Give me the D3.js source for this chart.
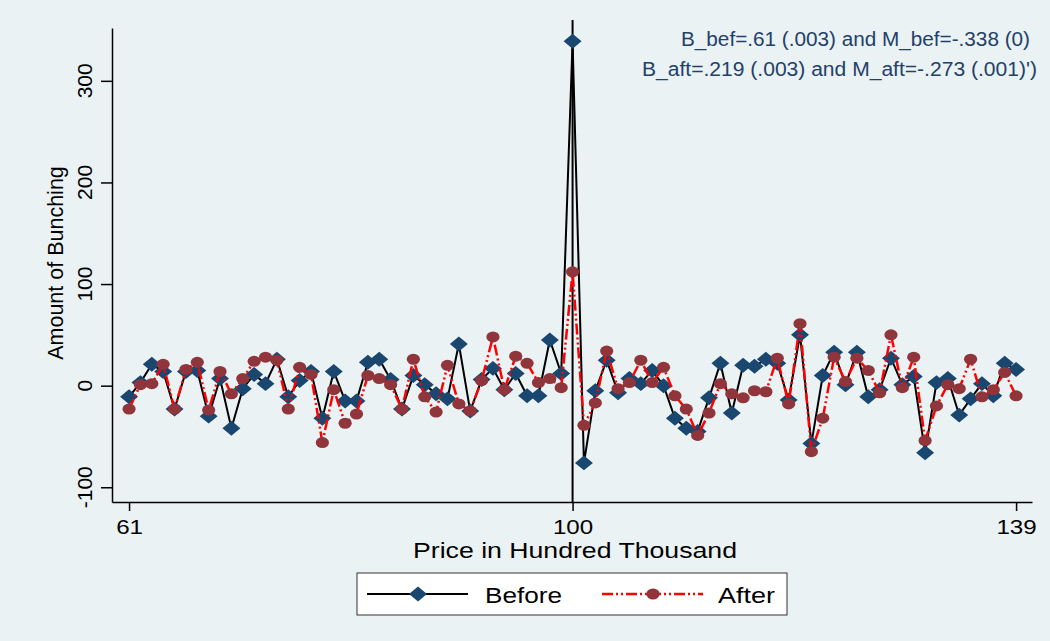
<!DOCTYPE html>
<html>
<head>
<meta charset="utf-8">
<script src="https://cdn.jsdelivr.net/npm/d3@7"></script>
<style>
    body { margin: 0; background: #eaf2f3; }
    text { font-family: "Liberation Sans", Arial, sans-serif; }
</style>
</head>
<body>
<div id="chart"></div>
<script>
// price bins (hundred thousand)
const prices = [61, 62, 63, 64, 65, 66, 67, 68, 69, 70, 71, 72, 73, 74, 75, 76, 77, 78, 79, 80,
    81, 82, 83, 84, 85, 86, 87, 88, 89, 90, 91, 92, 93, 94, 95, 96, 97, 98, 99, 100,
    101, 102, 103, 104, 105, 106, 107, 108, 109, 110, 111, 112, 113, 114, 115, 116, 117, 118, 119, 120,
    121, 122, 123, 124, 125, 126, 127, 128, 129, 130, 131, 132, 133, 134, 135, 136, 137, 138, 139]

const before = [-11, 3, 21, 14, -23, 14, 15, -30, 7, -42, -3, 11, 2, 26, -11, 5, 14, -32, 14, -15,
    -15, 23, 26, 6, -23, 10, 1, -8, -13, 41, -25, 6, 17, -4, 12, -10, -10, 45, 12, 339,
    -76, -5, 25, -7, 7, 2, 15, 0, -32, -42, -45, -12, 22, -27, 20, 19, 26, 22, -14, 50,
    -57, 10, 33, 1, 33, -11, -4, 27, 1, 9, -66, 3, 7, -29, -13, 2, -10, 22, 16]

const after = [-23, 1, 2, 21, -23, 16, 23, -24, 14, -8, 7, 24, 28, 25, -23, 18, 11, -56, -4, -37,
    -28, 10, 7, 1, -23, 26, -11, -26, 20, -18, -25, 5, 48, -4, 29, 22, 3, 7, -2, 112,
    -39, -17, 34, -3, 3, 25, 3, 18, -10, -23, -49, -27, 2, -8, -12, -5, -6, 27, -18, 61,
    -65, -32, 28, 4, 27, 15, -7, 50, -2, 28, -54, -20, 1, -3, 26, -11, -4, 13, -10]

const xTicks = [61, 100, 139]
const yTicks = [-100, 0, 100, 200, 300]
const cutoff = 100
const notes = ["B_bef=.61 (.003) and M_bef=-.338 (0)", "B_aft=.219 (.003) and M_aft=-.273 (.001)')"]
const seriesNames = ["Before", "After"]

const width = 1050, height = 641
const navy = "#1a476f", maroon = "#90353b"
const dashes = "11,3,2,3,2,3"

const svg = d3.select('#chart').append('svg')
    .attr('width', width)
    .attr('height', height)

svg.append('rect')
    .attr('width', width)
    .attr('height', height)
    .attr('fill', '#eaf2f3')

const x = d3.scaleLinear().domain([59.5, 140.4]).range([112, 1032])
const y = d3.scaleLinear().domain([-114.5, 352]).range([502, 28])

// axes
const xAxis = svg.append('g')
    .attr('transform', 'translate(0,502)')
    .call(d3.axisBottom(x).tickValues(xTicks).tickSize(9).tickSizeOuter(0))
xAxis.selectAll('text')
    .attr('y', 0)
    .attr('dy', 32)
    .attr('fill', '#000')
    .style('font-size', '21px')
    .attr('transform', 'scale(1.15,1)')

const yAxis = svg.append('g')
    .attr('transform', 'translate(112,0)')
    .call(d3.axisLeft(y).tickValues(yTicks).tickSize(11).tickSizeOuter(0))
yAxis.selectAll('text').remove()

svg.selectAll('.domain, .tick line')
    .attr('stroke', '#000')
    .attr('stroke-width', 1.5)

svg.selectAll('.ylabel')
    .data(yTicks)
    .join('text')
    .attr('class', 'ylabel')
    .attr('transform', d => `translate(92,${y(d)}) rotate(-90)`)
    .attr('text-anchor', 'middle')
    .style('font-size', '21px')
    .text(d => d)

svg.append('text')
    .attr('transform', `translate(63,${263}) rotate(-90)`)
    .attr('text-anchor', 'middle')
    .style('font-size', '21.5px')
    .text('Amount of Bunching')

svg.append('text')
    .attr('x', 413)
    .attr('y', 558)
    .attr('textLength', 324)
    .attr('lengthAdjust', 'spacingAndGlyphs')
    .style('font-size', '22px')
    .text('Price in Hundred Thousand')

// cutoff line
svg.append('line')
    .attr('x1', x(cutoff)).attr('x2', x(cutoff))
    .attr('y1', 20).attr('y2', 502)
    .attr('stroke', '#000')
    .attr('stroke-width', 2)

// series
const points = (vals) => prices.map((p, i) => ({ price: p, value: vals[i] }))
const line = d3.line().x(d => x(d.price)).y(d => y(d.value))
const diamond = d3.symbol(d3.symbolSquare, 112)

svg.append('path')
    .datum(points(before))
    .attr('d', line)
    .attr('fill', 'none')
    .attr('stroke', '#000')
    .attr('stroke-width', 2)

svg.selectAll('.bef')
    .data(points(before))
    .join('path')
    .attr('class', 'bef')
    .attr('d', diamond)
    .attr('transform', d => `translate(${x(d.price)},${y(d.value)}) scale(1.2,1) rotate(45)`)
    .attr('fill', navy)

svg.append('path')
    .datum(points(after))
    .attr('d', line)
    .attr('fill', 'none')
    .attr('stroke', '#ff0000')
    .attr('stroke-width', 2.5)
    .attr('stroke-dasharray', dashes)

svg.selectAll('.aft')
    .data(points(after))
    .join('ellipse')
    .attr('class', 'aft')
    .attr('cx', d => x(d.price))
    .attr('cy', d => y(d.value))
    .attr('rx', 6.6)
    .attr('ry', 5.5)
    .attr('fill', maroon)

// notes top right
const noteBoxes = [{ x: 681, y: 46, w: 349 }, { x: 642, y: 76, w: 395 }]
svg.selectAll('.note')
    .data(notes)
    .join('text')
    .attr('class', 'note')
    .attr('x', (d, i) => noteBoxes[i].x)
    .attr('y', (d, i) => noteBoxes[i].y)
    .attr('textLength', (d, i) => noteBoxes[i].w)
    .attr('lengthAdjust', 'spacingAndGlyphs')
    .attr('fill', '#23406b')
    .style('font-size', '20px')
    .text(d => d)

// legend
const legend = svg.append('g')
legend.append('rect')
    .attr('x', 357).attr('y', 573)
    .attr('width', 430).attr('height', 42)
    .attr('fill', '#fff')
    .attr('stroke', '#333')
    .attr('stroke-width', 1)

legend.append('line')
    .attr('x1', 367).attr('x2', 468).attr('y1', 594).attr('y2', 594)
    .attr('stroke', '#000').attr('stroke-width', 2)
legend.append('path')
    .attr('d', diamond)
    .attr('transform', 'translate(418,594) scale(1.2,1) rotate(45)')
    .attr('fill', navy)
legend.append('text')
    .attr('x', 485).attr('y', 603)
    .attr('textLength', 77)
    .attr('lengthAdjust', 'spacingAndGlyphs')
    .style('font-size', '22px')
    .text(seriesNames[0])

legend.append('line')
    .attr('x1', 602).attr('x2', 703).attr('y1', 594).attr('y2', 594)
    .attr('stroke', '#ff0000').attr('stroke-width', 2.5)
    .attr('stroke-dasharray', dashes)
legend.append('ellipse')
    .attr('cx', 653).attr('cy', 594)
    .attr('rx', 6.6).attr('ry', 5.5)
    .attr('fill', maroon)
legend.append('text')
    .attr('x', 718).attr('y', 603)
    .attr('textLength', 57)
    .attr('lengthAdjust', 'spacingAndGlyphs')
    .style('font-size', '22px')
    .text(seriesNames[1])
</script>
</body>
</html>
